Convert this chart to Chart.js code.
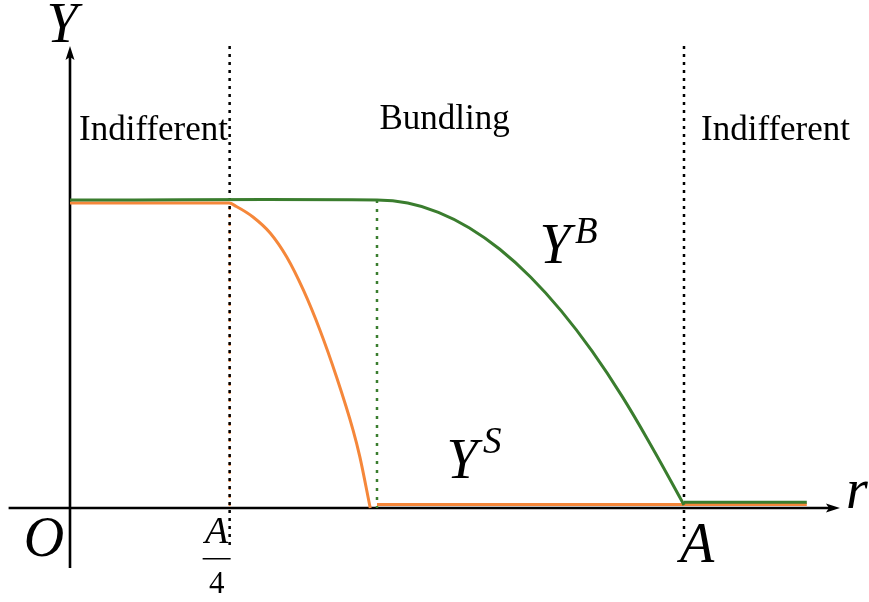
<!DOCTYPE html>
<html>
<head>
<meta charset="utf-8">
<script src="https://cdn.jsdelivr.net/npm/chart.js@4.4.1/dist/chart.umd.min.js"></script>
<style>
    html, body { margin: 0; padding: 0; background: #fff; }
    #wrap { width: 869px; height: 602px; }
</style>
</head>
<body>
<div id="wrap"><canvas id="regionChart" width="869" height="602"></canvas></div>
<script>
// 捆绑销售曲线 Y^B（r 以 A 为单位）
const bundleR = [0, 0.5, 0.55, 0.6, 0.65, 0.7, 0.75, 0.8, 0.85, 0.9, 0.95, 1.0];
const bundleY = [1, 1, 0.99, 0.96, 0.91, 0.84, 0.75, 0.64, 0.51, 0.36, 0.19, 0.01];
const bundleTailR = [1.0, 1.2];
const bundleTailY = [0.019, 0.019];

// 单独销售曲线 Y^S
const sepR = [0, 0.259, 0.271, 0.298, 0.326, 0.353, 0.380, 0.407, 0.434, 0.461, 0.472, 0.489];
const sepY = [0.99, 0.99, 0.979, 0.945, 0.893, 0.815, 0.708, 0.578, 0.426, 0.253, 0.167, 0];
const sepTailR = [0.5, 1.2];
const sepTailY = [0.011, 0.011];

// 区域分界线
const quarterR = 0.26;   // A/4
const bundleEdgeR = 0.5;
const fullR = 1;         // A
const guideTop = 1.5;
const guideBottom = -0.12;

// 坐标轴范围
const X_MIN = -0.1140, X_MAX = 1.3013;
const Y_MIN = -0.3052, Y_MAX = 1.6494;
const AXIS_X_END = 1.254, AXIS_X_START = -0.1;
const AXIS_Y_END = 1.5, AXIS_Y_START = -0.195;

const green = "#3a7d2e";
const orange = "#f5873a";
const serif = '"Liberation Serif", "DejaVu Serif", serif';

const toPoints = (xs, ys) => xs.map((x, i) => ({ x: x, y: ys[i] }));

// 坐标轴和箭头
const axesPlugin = {
    id: "axes",
    beforeDatasetsDraw(chart) {
        const { ctx, scales: { x, y } } = chart;
        const x0 = x.getPixelForValue(0);
        const y0 = y.getPixelForValue(0);
        const xEnd = x.getPixelForValue(AXIS_X_END);
        const yEnd = y.getPixelForValue(AXIS_Y_END);
        ctx.save();
        ctx.strokeStyle = "#000";
        ctx.fillStyle = "#000";
        ctx.lineWidth = 2.6;
        ctx.beginPath();
        ctx.moveTo(x.getPixelForValue(AXIS_X_START), y0);
        ctx.lineTo(xEnd - 10, y0);
        ctx.moveTo(x0, y.getPixelForValue(AXIS_Y_START));
        ctx.lineTo(x0, yEnd + 10);
        ctx.stroke();
        ctx.beginPath();
        ctx.moveTo(xEnd, y0);
        ctx.lineTo(xEnd - 14, y0 - 4.5);
        ctx.lineTo(xEnd - 11, y0);
        ctx.lineTo(xEnd - 14, y0 + 4.5);
        ctx.closePath();
        ctx.fill();
        ctx.beginPath();
        ctx.moveTo(x0, yEnd);
        ctx.lineTo(x0 - 4.5, yEnd + 14);
        ctx.lineTo(x0, yEnd + 11);
        ctx.lineTo(x0 + 4.5, yEnd + 14);
        ctx.closePath();
        ctx.fill();
        ctx.restore();
    }
};

// 文字标注
const labelPlugin = {
    id: "labels",
    afterDatasetsDraw(chart) {
        const { ctx, scales: { x, y } } = chart;
        const px = (v) => x.getPixelForValue(v);
        const py = (v) => y.getPixelForValue(v);
        const text = (str, cx, cy, font, align) => {
            ctx.font = font;
            ctx.textAlign = align || "center";
            ctx.fillText(str, cx, cy);
        };
        ctx.save();
        ctx.fillStyle = "#000";
        ctx.textBaseline = "alphabetic";

        const big = "italic 56px " + serif;
        const sup = "italic 37px " + serif;
        const roman = "35px " + serif;

        text("Y", px(0) - 8, 42, big);
        text("r", px(AXIS_X_END) + 17, py(0), big);
        text("O", px(0) - 26, py(0) + 48, big);
        text("A", px(fullR) + 13, py(0) + 54, big);

        // A/4
        const qx = px(quarterR) - 13;
        text("A", qx, py(0) + 35, "italic 38px " + serif);
        ctx.fillRect(qx - 14, py(0) + 50, 28, 1.5);
        text("4", qx, py(0) + 85, "31px " + serif);

        text("Indifferent", px(0) + 9, 140, roman, "left");
        text("Bundling", px(0.61), 129, roman);
        text("Indifferent", px(fullR) + 17, 140, roman, "left");

        text("Y", 555, 263, big);
        text("B", 575, 243, sup, "left");
        text("Y", 462, 478, big);
        text("S", 483, 453, sup, "left");
        ctx.restore();
    }
};

const line = (data, color, width, extra) => Object.assign({
    data: data,
    borderColor: color,
    borderWidth: width,
    showLine: true,
    pointRadius: 0,
    fill: false
}, extra || {});

const ctx = document.getElementById("regionChart").getContext("2d");
new Chart(ctx, {
    type: "scatter",
    data: {
        datasets: [
            line(toPoints(bundleR, bundleY), green, 3, { tension: 0.4 }),
            line(toPoints(bundleTailR, bundleTailY), green, 3),
            line(toPoints(sepR, sepY), orange, 3, { cubicInterpolationMode: "monotone" }),
            line(toPoints(sepTailR, sepTailY), orange, 3),
            line([{ x: quarterR, y: guideTop }, { x: quarterR, y: guideBottom }], "#000", 2.5, { borderDash: [3, 5] }),
            line([{ x: fullR, y: guideTop }, { x: fullR, y: -0.1 }], "#000", 2.5, { borderDash: [3, 5] }),
            line([{ x: bundleEdgeR, y: 1 }, { x: bundleEdgeR, y: 0 }], green, 2.5, { borderDash: [3, 6] }),
            line([{ x: quarterR, y: 0.99 }, { x: quarterR, y: 0 }], orange, 2, { borderDash: [3, 5], borderDashOffset: 4 })
        ]
    },
    options: {
        responsive: false,
        animation: false,
        devicePixelRatio: 1,
        events: [],
        layout: { padding: 0 },
        plugins: {
            legend: { display: false },
            tooltip: { enabled: false }
        },
        scales: {
            x: { type: "linear", min: X_MIN, max: X_MAX, display: false },
            y: { type: "linear", min: Y_MIN, max: Y_MAX, display: false }
        }
    },
    plugins: [axesPlugin, labelPlugin]
});
</script>
</body>
</html>
